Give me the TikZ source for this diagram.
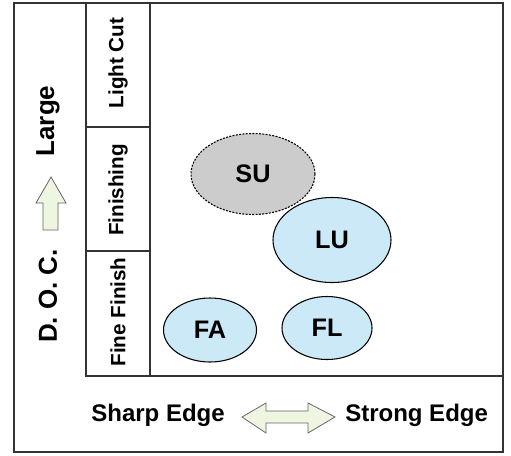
\documentclass[tikz,border=0pt]{standalone}
\usepackage{fontspec}
\setmainfont{Liberation Sans}
\usetikzlibrary{shapes.geometric}
\definecolor{blob}{HTML}{CCE9F8}
\definecolor{sugray}{HTML}{CCCCCC}
\definecolor{arrfill}{HTML}{EEF5E1}
\definecolor{linec}{HTML}{333333}
\tikzset{
  frame/.style={draw=linec, line width=0.9pt},
  blobnode/.style={ellipse, draw=black, line width=0.8pt, fill=blob, inner sep=0pt,
    font=\fontsize{19}{21}\selectfont\bfseries},
  sunode/.style={blobnode, fill=sugray, dash pattern=on 1.5pt off 1pt},
  collabel/.style={rotate=90, font=\fontsize{15.5}{17}\selectfont\bfseries, inner sep=0pt},
  sidelabel/.style={rotate=90, font=\fontsize{19.5}{21}\selectfont\bfseries, inner sep=0pt},
  axlabel/.style={font=\fontsize{18}{20}\selectfont\bfseries, inner sep=0pt},
  fatarrow/.style={draw=black!60, line width=0.6pt, fill=arrfill},
}
\begin{document}
\begin{tikzpicture}[x=0.75pt, y=-0.75pt]
\useasboundingbox (0,0) rectangle (511,455);
% frames
\draw[frame] (14,3) rectangle (503,452);
\draw[frame] (86,3) -- (86,376) -- (503,376);
\draw[frame] (150,3) -- (150,376);
\draw[frame] (86,127) -- (150,127);
\draw[frame] (86,251) -- (150,251);
% column labels
\node[collabel] (lc) at (118,63) {Light Cut};
\node[collabel] (fi) at (118,190) {Finishing};
\node[collabel] (ff) at (118,312) {Fine Finish};
% side labels
\node[sidelabel] (large) at (48,121) {Large};
\node[sidelabel] (doc) at (48,296) {D. O. C.};
\draw[fatarrow] (43,230) -- (58,230) -- (58,203) -- (66,203) -- (51,177) -- (36,203) -- (43,203) -- cycle;
% ellipses
\node[sunode, minimum width=93pt, minimum height=60.75pt] (su) at (253,174) {SU};
\node[blobnode, minimum width=88.5pt, minimum height=63.75pt] (lu) at (332,240) {LU};
\node[blobnode, minimum width=69.75pt, minimum height=48pt] (fa) at (210,330) {FA};
\node[blobnode, minimum width=67.5pt, minimum height=47.25pt] (fl) at (327,328) {FL};
% bottom labels
\node[axlabel, anchor=east] (sharp) at (225,415) {Sharp Edge};
\node[axlabel, anchor=west] (strong) at (345,415) {Strong Edge};
\draw[fatarrow] (242,417) -- (266,403) -- (266,411) -- (308,411) -- (308,403) -- (335,417)
  -- (308,433) -- (308,423) -- (266,423) -- (266,433) -- cycle;
\end{tikzpicture}
\end{document}
